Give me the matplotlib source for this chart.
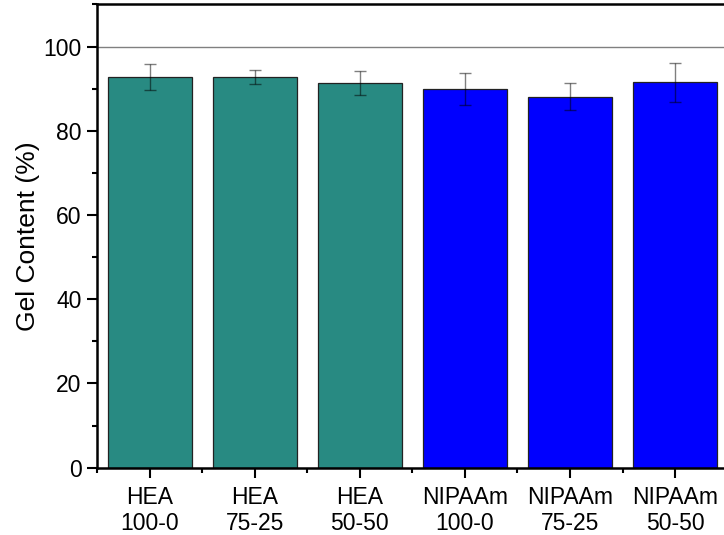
import matplotlib.pyplot as plt
import numpy as np
from matplotlib.ticker import MultipleLocator

plt.rcParams['font.family'] = ['Liberation Sans', 'DejaVu Sans']

# gel content per formulation ---------------------------------
labels = ['HEA\n100-0', 'HEA\n75-25', 'HEA\n50-50',
          'NIPAAm\n100-0', 'NIPAAm\n75-25', 'NIPAAm\n50-50']
gel = [92.8, 92.8, 91.4, 90.0, 88.1, 91.5]
err = [3.1, 1.7, 2.8, 3.8, 3.2, 4.7]
colors = ['#288a82'] * 3 + ['#0000ff'] * 3

x = np.arange(1, len(labels) + 1)

fig = plt.figure(figsize=(7.24, 5.35), dpi=100)
ax = fig.add_axes([0.134, 0.1258, 1.005 - 0.134, 0.9916 - 0.1258])

ax.axhline(100, color='#808080', lw=1.0, zorder=0)
ax.bar(x, gel, width=0.8, color=colors, edgecolor='#222222', linewidth=0.9, zorder=2)
ax.errorbar(x, gel, yerr=err, fmt='none', ecolor='black', alpha=0.5,
            elinewidth=1.0, capsize=4.5, capthick=1.0, zorder=3)

ax.set_xlim(0.5, 6.5)
ax.set_ylim(0, 110)
ax.set_xticks(x)
ax.set_xticklabels(labels, fontsize=16.5, linespacing=1.2)
ax.xaxis.set_minor_locator(MultipleLocator(1, offset=0.5))
ax.yaxis.set_major_locator(MultipleLocator(20))
ax.yaxis.set_minor_locator(MultipleLocator(10))
ax.tick_params(axis='both', which='major', direction='out', length=7, width=1.5,
               labelsize=16.5)
ax.tick_params(axis='x', which='major', pad=6)
ax.tick_params(axis='y', which='major', pad=4)
ax.tick_params(axis='both', which='minor', direction='out', length=3.5, width=1.5)
ax.set_ylabel('Gel Content (%)', fontsize=19)
ax.yaxis.set_label_coords(-0.09, 0.5)

for side in ['left', 'bottom', 'top']:
    ax.spines[side].set_linewidth(1.8)
ax.spines['right'].set_visible(False)

fig.savefig('out.png', dpi=100)
